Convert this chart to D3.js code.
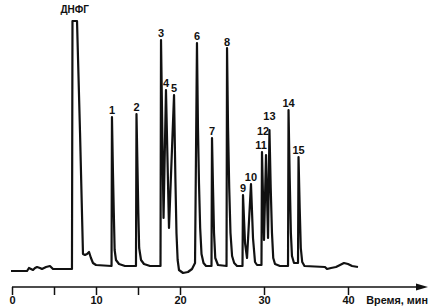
<!DOCTYPE html>
<html>
<head>
<meta charset="utf-8">
<script src="https://cdn.jsdelivr.net/npm/d3@7/dist/d3.min.js"></script>
<style>
html,body{margin:0;padding:0;background:#fff;}
svg{display:block;}
text{font-family:"Liberation Sans",Arial,sans-serif;font-weight:bold;fill:#111;}
</style>
</head>
<body>
<div id="chart"></div>
<script>
// Chromatogram trace: retention time (min) and detector response (relative units)
const time = [-0.12,1.79,2.02,2.26,2.50,2.74,2.98,3.33,3.57,4.05,4.52,4.88,5.71,7.14,
  7.20,7.74,8.10,8.45,8.69,8.93,9.17,9.40,9.64,10.0,11.85,
  11.90,12.02,12.12,12.22,12.38,12.74,13.45,14.76,
  14.82,14.94,15.04,15.14,15.36,15.71,16.43,17.68,
  17.74,18.04,18.33,18.69,19.29,19.45,19.58,19.72,19.88,20.36,20.95,21.43,21.79,
  22.02,22.14,22.26,22.40,22.56,22.80,23.10,23.75,
  23.81,23.93,24.05,24.20,24.52,25.54,
  25.60,25.72,25.86,26.01,26.20,26.45,26.79,27.44,
  27.50,27.74,27.98,28.45,28.69,28.93,29.17,29.70,
  29.76,30.00,30.24,30.48,30.65,30.80,30.95,31.10,31.31,31.90,32.86,
  32.92,33.06,33.20,33.33,33.57,34.05,34.11,34.25,34.38,34.55,34.82,
  37.26,37.5,37.98,38.57,39.05,39.52,40.0,40.48,41.19];
const signal = [-3,-3,0,-1,-2,0,1,0,-1,1,2,-1,-1,-1,
  247,247,135,14,13,14,16,10,5,3,2,
  151,95,55,18,8,4,2,2,
  154,100,55,20,8,4,2,2,
  228,50,178,40,173,90,35,8,-2,-5,-4,-1,5,
  225,140,85,40,14,5,2,2,
  130,80,35,10,3,2,
  220,140,80,35,12,5,2,2,
  73,25,10,84,30,6,3,3,
  116,28,113,30,138,80,35,10,4,2,2,
  158,90,35,12,5,5,111,60,20,6,2,
  1,-1,0,1,3,5,4,2,1];

// Peak labels
const peakNames = ["ДНФГ","1","2","3","4","5","6","7","8","9","10","11","12","13","14","15"];
const peakTimes = [7.47,11.90,14.82,17.74,18.33,19.29,22.02,23.81,25.60,27.50,28.45,29.76,30.24,30.65,32.92,34.11];
const peakHeights = [247,151,154,228,178,173,225,130,220,73,84,116,113,138,158,111];

// Axis ticks
const tickValues = [0,5,10,15,20,30,40];
const tickLabels = {0:"0",10:"10",20:"20",30:"30",40:"40"};
const axisTitle = "Время, мин";

const W = 432, H = 307;
const svg = d3.select("#chart").append("svg").attr("width", W).attr("height", H);

const x = d3.scaleLinear().domain([0, 40]).range([12, 348]);
const y = d3.scaleLinear().domain([0, 250]).range([268, 18]);

const pts = time.map((t, i) => [t, signal[i]]);
const line = d3.line().x(d => x(d[0])).y(d => y(d[1]));

svg.append("path")
  .datum(pts)
  .attr("d", line)
  .attr("fill", "none")
  .attr("stroke", "#111")
  .attr("stroke-width", 2.2)
  .attr("stroke-linejoin", "round");

// Peak labels
const dxAdj = {"12": -3, "11": -1};
const dyAdj = {"12": -17, "13": -7, "ДНФГ": -5, "7": 0, "8": 1, "10": 0};
svg.selectAll("text.peak")
  .data(peakNames)
  .enter().append("text")
  .attr("class", "peak")
  .attr("x", (d, i) => x(peakTimes[i]) + (dxAdj[d] || 0))
  .attr("y", (d, i) => y(peakHeights[i]) - 3 + (dyAdj[d] !== undefined ? dyAdj[d] : 0))
  .attr("text-anchor", "middle")
  .attr("font-size", d => d === "ДНФГ" ? 10 : 11)
  .text(d => d);

// X axis
const axisY = 287;
const axis = d3.axisBottom(x)
  .tickValues(tickValues)
  .tickSize(8)
  .tickPadding(1)
  .tickFormat(d => tickLabels[d] || "");
const gAxis = svg.append("g").attr("transform", `translate(0,${axisY})`).call(axis);
gAxis.select(".domain").remove();
gAxis.selectAll(".tick line").attr("stroke", "#111").attr("stroke-width", 1.5);
gAxis.selectAll(".tick text")
  .attr("font-size", 11)
  .attr("font-family", "Liberation Sans, Arial, sans-serif")
  .attr("font-weight", "bold")
  .attr("fill", "#111");

svg.append("line")
  .attr("x1", x(0)).attr("x2", 420)
  .attr("y1", axisY).attr("y2", axisY)
  .attr("stroke", "#111").attr("stroke-width", 1.5);
svg.append("path")
  .attr("d", `M428,${axisY} L416,${axisY - 3.5} L416,${axisY + 3.5} Z`)
  .attr("fill", "#111");

svg.append("text")
  .attr("x", 428).attr("y", 304)
  .attr("text-anchor", "end")
  .attr("font-size", 10.8)
  .text(axisTitle);
</script>
</body>
</html>
